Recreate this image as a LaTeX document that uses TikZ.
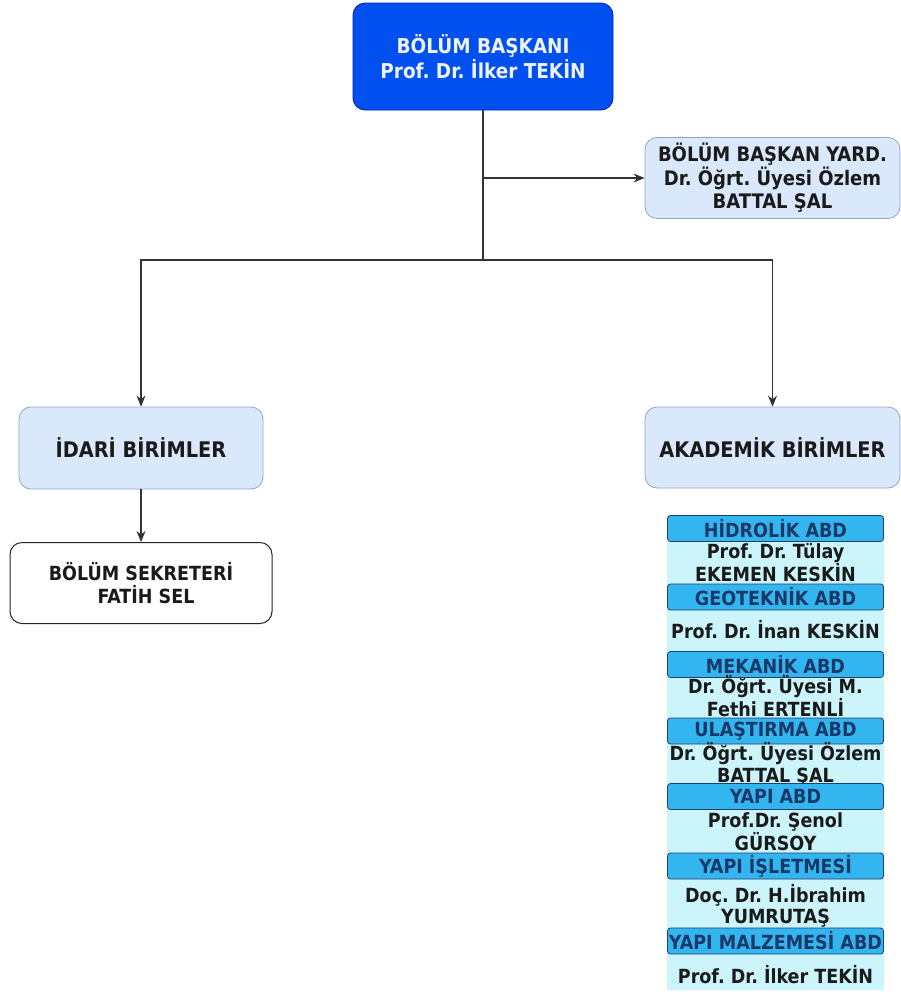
\documentclass[tikz,border=0pt]{standalone}
\usepackage{fontspec}
\setmainfont{DejaVu Sans Condensed}[BoldFont={DejaVu Sans Condensed Bold}]
\usetikzlibrary{arrows.meta}
\frenchspacing
\definecolor{topfill}{HTML}{0050EF}
\definecolor{topstroke}{HTML}{001DBC}
\definecolor{toptext}{HTML}{EEF3FF}
\definecolor{lightfill}{HTML}{DAE8FC}
\definecolor{lightstroke}{HTML}{8FA6C6}
\definecolor{hdrfill}{HTML}{33B6F0}
\definecolor{hdrstroke}{HTML}{1E3F73}
\definecolor{hdrtext}{HTML}{1A3868}
\definecolor{stackbg}{HTML}{CCF5FB}
\definecolor{linecol}{HTML}{333333}
\definecolor{bodytext}{HTML}{1A1A1A}
\tikzset{
  every node/.style={font=\bfseries},
  boxbase/.style={rounded corners=12pt, align=center, inner sep=0pt},
  topbox/.style={boxbase, fill=topfill, draw=topstroke, line width=0.8pt, text=toptext,
    minimum width=260pt, minimum height=107pt, font=\bfseries\fontsize{20.5}{25}\selectfont},
  lightbox/.style={boxbase, fill=lightfill, draw=lightstroke, line width=0.8pt, text=bodytext,
    minimum width=255pt, minimum height=81pt, font=\bfseries\fontsize{20}{23.5}\selectfont},
  unitbox/.style={lightbox, font=\bfseries\fontsize{21.5}{25}\selectfont},
  whitebox/.style={boxbase, fill=white, draw=black!85, line width=1pt, text=bodytext,
    minimum width=262pt, minimum height=81pt, font=\bfseries\fontsize{19.5}{23}\selectfont},
  hdr/.style={rounded corners=3pt, fill=hdrfill, draw=hdrstroke, line width=0.8pt, text=hdrtext,
    minimum width=216pt, minimum height=26pt, inner sep=0pt, font=\bfseries\fontsize{19.5}{22}\selectfont},
  member/.style={align=center, inner sep=0pt, text=bodytext, font=\bfseries\fontsize{19.5}{21.5}\selectfont},
  conn/.style={draw=linecol, line width=1.2pt},
  arr/.style={conn, -{Stealth[length=11pt, width=9pt]}},
}
\begin{document}
\begin{tikzpicture}[x=1pt, y=-1pt]
\useasboundingbox (0,0) rectangle (901,994);
\fill[white] (0,0) rectangle (901,994);

\node[topbox] (top) at (483,56.5) {BÖLÜM BAŞKANI\\Prof. Dr. İlker TEKİN};
\node[lightbox] (yard) at (772.5,178) {BÖLÜM BAŞKAN YARD.\\Dr. Öğrt. Üyesi Özlem\\BATTAL ŞAL};
\node[unitbox, minimum width=244pt, minimum height=82pt] (idari) at (141,448) {İDARİ BİRİMLER};
\node[unitbox] (akad) at (772.5,447.5) {AKADEMİK BİRİMLER};
\node[whitebox] (sek) at (141,583) {BÖLÜM SEKRETERİ\\\hspace*{10pt}FATİH SEL};

\coordinate (jn) at (483,260);
\draw[conn] (top.south) -- (jn);
\draw[arr] (top.south |- yard.west) -- (yard.west);
\draw[arr] (jn) -| (idari.north);
\draw[arr] (jn) -| (akad.north);
\draw[arr] (idari.south) -- (sek.north);

% academic units stack
\fill[stackbg] (667,515) rectangle (884,990);
\node[hdr] (h1) at (775.5,528.5) {HİDROLİK ABD};
\node[member] (m1) at (775.5,562.5) {Prof. Dr. Tülay\\EKEMEN KESKİN};
\node[hdr] (h2) at (775.5,597) {GEOTEKNİK ABD};
\node[member] (m2) at (775.5,630) {Prof. Dr. İnan KESKİN};
\node[hdr] (h3) at (775.5,664.5) {MEKANİK ABD};
\node[member] (m3) at (775.5,696) {Dr. Öğrt. Üyesi M.\\Fethi ERTENLİ};
\node[hdr] (h4) at (775.5,731) {ULAŞTIRMA ABD};
\node[member] (m4) at (775.5,764.5) {Dr. Öğrt. Üyesi Özlem\\BATTAL ŞAL};
\node[hdr] (h5) at (775.5,796.5) {YAPI ABD};
\node[member] (m5) at (775.5,831.5) {Prof.Dr. Şenol\\GÜRSOY};
\node[hdr] (h6) at (775.5,866) {YAPI İŞLETMESİ};
\node[member] (m6) at (775.5,906) {Doç. Dr. H.İbrahim\\YUMRUTAŞ};
\node[hdr] (h7) at (775.5,941) {YAPI MALZEMESİ ABD};
\node[member] (m7) at (775.5,975) {Prof. Dr. İlker TEKİN};
\end{tikzpicture}
\end{document}
